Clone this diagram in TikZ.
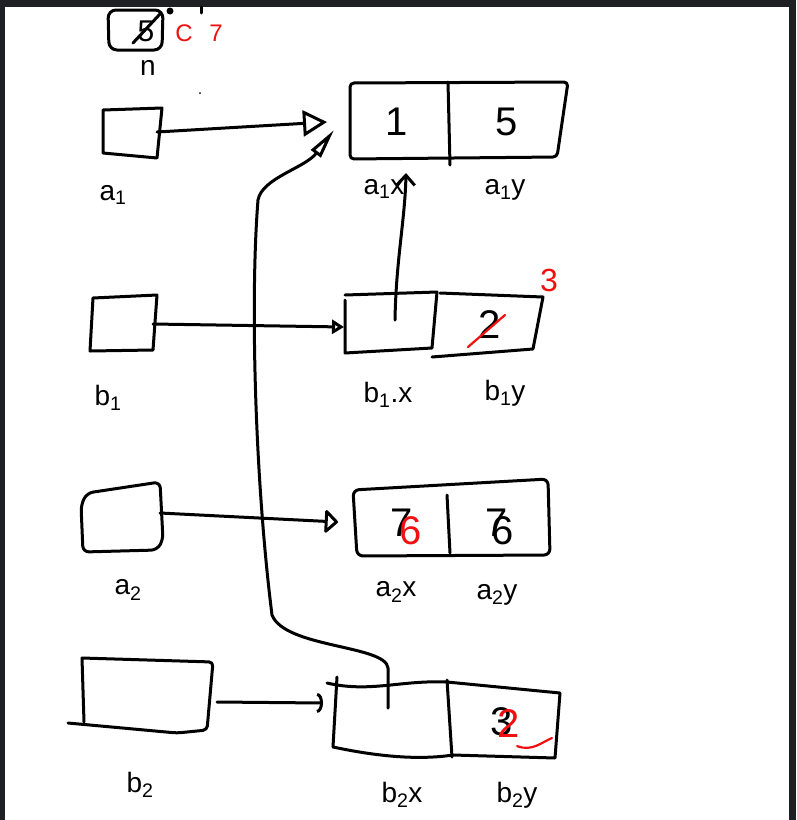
\documentclass[tikz,border=0pt]{standalone}
\usepackage{fontspec}
\setmainfont{Liberation Sans}
\usetikzlibrary{arrows.meta}
\definecolor{frame}{HTML}{1F2023}
\definecolor{redpen}{HTML}{F01010}

\begin{document}
\begin{tikzpicture}[x=1pt,y=-1pt,
  ink/.style={line width=3pt, line cap=round, line join=round},
  redink/.style={line width=2.2pt, line cap=round, line join=round, draw=redpen},
  val/.style={font=\fontsize{40}{40}\selectfont, inner sep=0},
  redval/.style={val, text=redpen},
  note/.style={font=\fontsize{24}{24}\selectfont, inner sep=0, text=redpen},
  lbl/.style={font=\fontsize{28}{28}\selectfont, inner sep=0},
]
% window frame and canvas
\fill[frame] (0,0) rectangle (796,820);
\fill[white] (5,7) rectangle (789,820);
\useasboundingbox (0,0) rectangle (796,820);

% ---------- counter n ----------
\begin{scope}
\clip (5,7) rectangle (789,820);
\draw[ink, rounded corners=8pt] (108,10) -- (163,10) -- (162,50) -- (109,50) -- cycle;
\end{scope}
\node[val, font=\fontsize{30}{30}\selectfont] (nval) at (146,31) {5};
\draw[ink] (133,43) -- (160,14);
\fill (170,11) circle (3.5pt);
\draw[ink] (201,7) -- (201,13);
\node[note] (nred1) at (184,33) {C};
\node[note] (nred2) at (216,33) {7};
\node[lbl] (nlbl) at (148,68) {n};
\fill (200,93) circle (1pt);

% ---------- pointer boxes ----------
\draw[ink] (103,110) -- (162,108) -- (157,158) -- (103,153) -- cycle;
\coordinate (a1out) at (157,132);
\node[lbl] (a1lbl) at (113,195) {a\textsubscript{1}};

\draw[ink] (93,298) -- (157,295) -- (153,350) -- (90,351) -- cycle;
\coordinate (b1out) at (153,324);
\node[lbl] (b1lbl) at (108,398) {b\textsubscript{1}};

\draw[ink, rounded corners=6pt] (87,493) -- (160,482) -- (163,540) -- (157,550) -- (83,552) -- (81,505) -- cycle;
\coordinate (a2out) at (160,513);
\node[lbl] (a2lbl) at (128,590) {a\textsubscript{2}};

\draw[ink, rounded corners=4pt] (82,658) -- (213,662) -- (207,730) -- (177,733) -- (68,723);
\draw[ink] (82,658) -- (84,722);
\coordinate (b2out) at (217,702);
\node[lbl] (b2lbl) at (140,785) {b\textsubscript{2}};

% ---------- record a1 ----------
\draw[ink, rounded corners=4pt] (350,83) -- (568,82) -- (557,157) -- (350,159) -- cycle;
\draw[ink] (448,82) -- (450,165);
\coordinate (a1in) at (327,122);
\node[val] (a1x) at (397,122) {1};
\node[val] (a1y) at (507,122) {5};
\node[lbl] (a1xl) at (384,189) {a\textsubscript{1}x};
\node[lbl] (a1yl) at (505,190) {a\textsubscript{1}y};

% ---------- record b1 ----------
\draw[ink] (345,300) -- (345,353) -- (432,348) -- (437,292) -- (345,295);
\draw[ink] (440,293) -- (543,297) -- (533,349) -- (432,357);
\coordinate (b1in) at (344,327);
\coordinate (b1ptr) at (395,320);
\node[val] (b1y) at (490,325) {2};
\draw[redink] (468,347) -- (505,315);
\node[note, font=\fontsize{32}{32}\selectfont] (b1new) at (549,280) {3};
\node[lbl] (b1xl) at (388,395) {b\textsubscript{1}.x};
\node[lbl] (b1yl) at (505,393) {b\textsubscript{1}y};

% ---------- record a2 ----------
\draw[ink, rounded corners=6pt] (353,490) -- (548,479) -- (550,555) -- (357,556) -- cycle;
\draw[ink] (447,495) -- (450,553);
\coordinate (a2in) at (338,522);
\node[val] (a2x) at (402,523) {7};
\node[redval] (a2xnew) at (411,531) {6};
\node[val] (a2y) at (497,523) {7};
\node[val] (a2ynew) at (503,531) {6};
\node[lbl] (a2xl) at (396,592) {a\textsubscript{2}x};
\node[lbl] (a2yl) at (497,595) {a\textsubscript{2}y};

% ---------- record b2 ----------
\draw[ink] (327,683) .. controls (370,693) and (400,680) .. (447,682) -- (560,693) -- (555,758)
  -- (453,755) .. controls (420,760) and (380,757) .. (333,747);
\draw[ink] (337,677) -- (333,747);
\draw[ink] (447,680) -- (452,757);
\coordinate (b2in) at (323,703);
\coordinate (b2ptr) at (388,708);
\node[val] (b2y) at (502,722) {3};
\node[redval] (b2ynew) at (509,724) {2};
\draw[redink] (517,746) .. controls (532,752) and (542,742) .. (552,738);
\node[lbl] (b2xl) at (402,795) {b\textsubscript{2}x};
\node[lbl] (b2yl) at (517,795) {b\textsubscript{2}y};

% ---------- connectors ----------
\draw[ink, -{Triangle[open, length=24pt, width=26pt]}] (a1out) -- (a1in);
\draw[ink, -{Triangle[open, length=12pt, width=14pt]}] (b1out) -- (b1in);
\draw[ink, -{Triangle[open, round, length=14pt, width=26pt]}] (a2out) -- (a2in);
\draw[ink, -{Arc Barb[length=6pt, width=20pt]}] (b2out) -- (b2in);
\coordinate (a1xtip) at (406,173);
\draw[ink, -{Straight Barb[length=10pt, width=18pt]}] (b1ptr) .. controls (396,260) and (405,220) .. (a1xtip);
\coordinate (a1low) at (334,130);
\draw[ink, -{Triangle[open, length=30pt, width=12pt]}] (b2ptr) -- (388,668)
  .. controls (386,645) and (285,648) .. (272,615)
  .. controls (255,480) and (250,300) .. (258,200)
  .. controls (262,178) and (305,168) .. (a1low);
\end{tikzpicture}
\end{document}
